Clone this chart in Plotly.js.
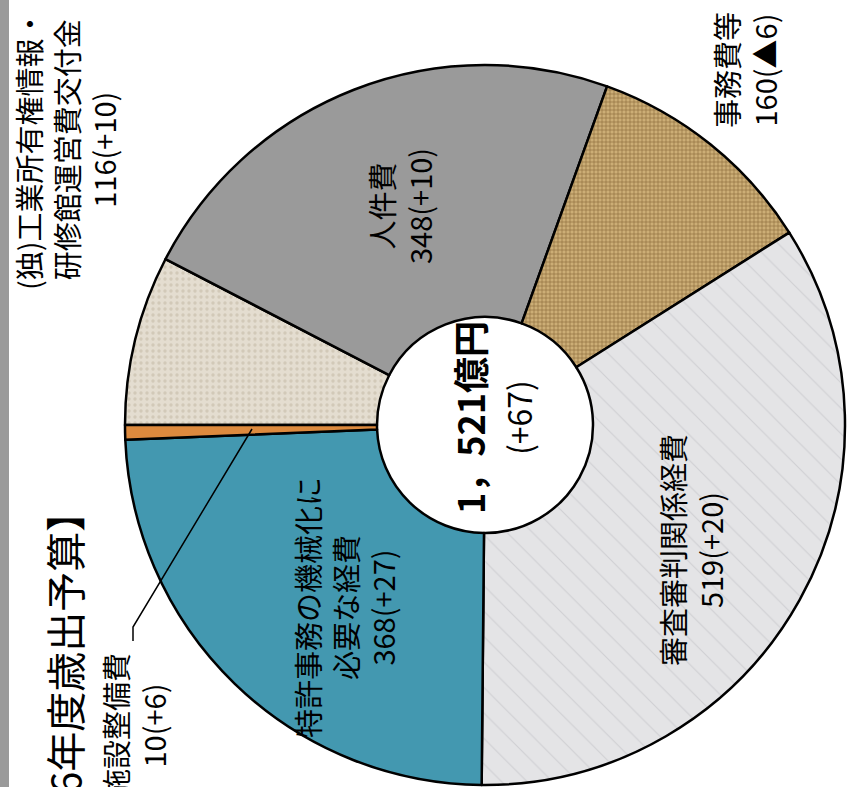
<!DOCTYPE html>
<html>
<head>
<meta charset="utf-8">
<script src="https://cdn.plot.ly/plotly-3.0.1.min.js"></script>
<style>html,body{margin:0;padding:0;background:#fff;}#chart{width:847px;height:787px;}</style>
</head>
<body>
<div id="chart"></div>
<script>
// ---- data ----
const categories = ['(独)工業所有権情報・研修館運営費交付金', '人件費', '事務費等', '審査審判関係経費', '特許事務の機械化に必要な経費', '施設整備費'];
const labelLines = [
  ['(独)工業所有権情報・', '研修館運営費交付金'],
  ['人件費'],
  ['事務費等'],
  ['審査審判関係経費'],
  ['特許事務の機械化に', '必要な経費'],
  ['施設整備費']
];
const values = [116, 348, 160, 519, 368, 10];
const changes = ['+10', '+10', '▲6', '+20', '+27', '+6'];
const totalLabel = '1，521億円';
const totalChange = '(+67)';
const titleText = '【令和6年度歳出予算】';

// ---- styles ----
const W = 847, H = 787;
const px = x => x / W;
const py = y => 1 - y / H;
const cx = 485, cy = 425, R = 360;
const FONT = '"Noto Sans CJK JP", "Noto Sans", sans-serif';

const fills = ['#e4ddd0', '#9a9a9a', '#ccae76', '#e4e4e6', '#4398b0', '#dd8a3e'];
const patterns = {
  shape: ['.', '', '+', '\\', '', ''],
  fgcolor: ['#d2c9b8', '#9a9a9a', '#8c6f3e', '#cfcfd3', '#4398b0', '#dd8a3e'],
  bgcolor: fills,
  size: [6, 8, 4, 18, 8, 8],
  solidity: [0.25, 0.2, 0.3, 0.06, 0.2, 0.2],
  fillmode: 'replace'
};

const trace = {
  type: 'pie',
  labels: categories,
  values: values,
  sort: false,
  direction: 'clockwise',
  rotation: 270,
  hole: 0.30,
  textinfo: 'none',
  hoverinfo: 'label+value',
  marker: {colors: fills, pattern: patterns, line: {color: '#000', width: 2.5}},
  domain: {x: [px(cx - R), px(cx + R)], y: [py(cy + R), py(cy - R)]}
};

// label block centers (pixels)
const labelPos = [[65, 150], [400, 206], [745, 70], [691, 550], [344, 608], [134, 726]];

const annotations = categories.map((c, i) => ({
  text: labelLines[i].concat([values[i] + '(' + changes[i] + ')']).join('<br>'),
  x: px(labelPos[i][0]), y: py(labelPos[i][1]),
  xref: 'paper', yref: 'paper', xanchor: 'center', yanchor: 'middle',
  showarrow: false, textangle: -90,
  font: {family: FONT, size: 29, color: '#000'}
}));

annotations.push({
  text: '<b>' + totalLabel + '</b><br><span style="font-size:32px;font-weight:normal">' + totalChange + '</span>',
  x: px(492), y: py(418), xref: 'paper', yref: 'paper',
  xanchor: 'center', yanchor: 'middle', showarrow: false, textangle: -90,
  font: {family: FONT, size: 36, color: '#000'}
});

annotations.push({
  text: titleText,
  x: px(64), y: py(490), xref: 'paper', yref: 'paper',
  xanchor: 'center', yanchor: 'top', showarrow: false, textangle: -90,
  font: {family: FONT, size: 40, color: '#000'}
});

const shapes = [
  {type: 'rect', xref: 'paper', yref: 'paper', x0: 0, x1: px(9), y0: 0, y1: 1,
   fillcolor: '#9a9a9a', line: {width: 0}, layer: 'below'},
  {type: 'path', xref: 'paper', yref: 'paper',
   path: `M${px(252)},${py(429)} L${px(133)},${py(627)} L${px(133)},${py(641)}`,
   line: {color: '#000', width: 1.5}}
];

const layout = {
  width: W, height: H,
  margin: {l: 0, r: 0, t: 0, b: 0},
  paper_bgcolor: '#fff',
  showlegend: false,
  annotations: annotations,
  shapes: shapes
};

Plotly.newPlot('chart', [trace], layout, {displayModeBar: false, staticPlot: true});
</script>
</body>
</html>
